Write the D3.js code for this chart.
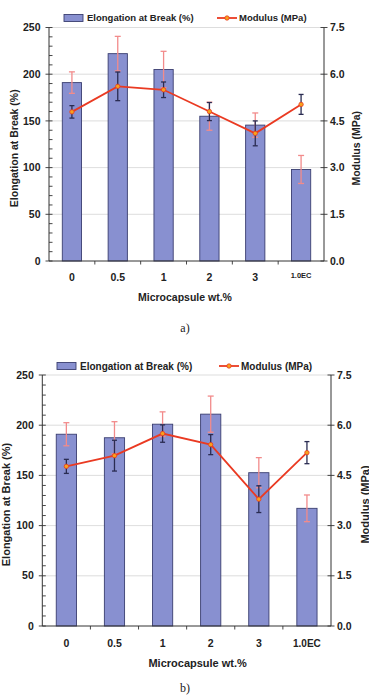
<!DOCTYPE html>
<html>
<head>
<meta charset="utf-8">
<script src="https://cdn.jsdelivr.net/npm/d3@7"></script>
<style>
  html, body { margin: 0; padding: 0; background: #fff; }
  svg { display: block; }
  text { font-family: "Liberation Sans", Arial, sans-serif; font-weight: bold; fill: #222; }
  .cap { font-family: "Liberation Serif", "DejaVu Serif", serif; font-weight: normal; }
</style>
</head>
<body>
<svg id="chart" width="369" height="700"></svg>
<script>
// categorías comunes a los dos paneles
const categories = ['0', '0.5', '1', '2', '3', '1.0EC'];

// panel a)
const elongA = [191, 222, 205, 155, 145.5, 98];
const elongErrA = [11.5, 18.5, 19.5, 15, 13, 15];
const modulusA = [4.79, 5.61, 5.50, 4.80, 4.10, 5.03];
const modulusErrA = [0.2, 0.46, 0.25, 0.29, 0.4, 0.32];

// panel b)
const elongB = [191, 187.5, 201, 211, 152.7, 117.2];
const elongErrB = [11.5, 16, 12.3, 18, 15, 13.3];
const modulusB = [4.77, 5.09, 5.75, 5.42, 3.79, 5.18];
const modulusErrB = [0.21, 0.46, 0.26, 0.3, 0.4, 0.33];

const leftTicks = [0, 50, 100, 150, 200, 250];
const rightTicks = [0, 1.5, 3.0, 4.5, 6.0, 7.5];

const BAR_FILL = '#8890d0', BAR_STROKE = '#3a3e70';
const LINE = '#ea3a22', MARK = '#f7a21c';
const ERR_PINK = '#f28b8b', ERR_DARK = '#2a2c52';

const svg = d3.select('#chart');

function drawPanel(p) {
    const g = svg.append('g');
    const x = d3.scaleBand().domain(categories).range([p.x0, p.x1]);
    const yL = d3.scaleLinear().domain([0, 250]).range([p.bottom, p.top]);
    const yR = d3.scaleLinear().domain([0, 7.5]).range([p.bottom, p.top]);
    const cx = d => x(d) + x.bandwidth() / 2;
    const bw = x.bandwidth() * 0.42;

    // líneas de rejilla
    g.selectAll('.grid').data(leftTicks.slice(1)).join('line')
        .attr('x1', p.x0).attr('x2', p.x1)
        .attr('y1', d => yL(d)).attr('y2', d => yL(d))
        .attr('stroke', '#d4d4d4').attr('stroke-width', 0.8);

    // barras
    g.selectAll('.bar').data(categories).join('rect')
        .attr('x', d => cx(d) - bw / 2)
        .attr('width', bw)
        .attr('y', (d, i) => yL(p.elong[i]))
        .attr('height', (d, i) => yL(0) - yL(p.elong[i]))
        .attr('fill', BAR_FILL).attr('stroke', BAR_STROKE).attr('stroke-width', 0.9);

    // barras de error
    function errBars(vals, errs, scale, color, cap) {
        categories.forEach((c, i) => {
            const xc = cx(c), y1 = scale(vals[i] + errs[i]), y2 = scale(vals[i] - errs[i]);
            g.append('line').attr('x1', xc).attr('x2', xc).attr('y1', y1).attr('y2', y2)
                .attr('stroke', color).attr('stroke-width', 1.3);
            [y1, y2].forEach(yy => g.append('line')
                .attr('x1', xc - cap).attr('x2', xc + cap).attr('y1', yy).attr('y2', yy)
                .attr('stroke', color).attr('stroke-width', 1.3));
        });
    }
    errBars(p.elong, p.elongErr, yL, ERR_PINK, 3);
    errBars(p.modulus, p.modulusErr, yR, ERR_DARK, 2.5);

    // línea del módulo
    const line = d3.line().x((d, i) => cx(categories[i])).y(d => yR(d));
    g.append('path').datum(p.modulus).attr('d', line)
        .attr('fill', 'none').attr('stroke', LINE).attr('stroke-width', 1.8);
    g.selectAll('.pt').data(p.modulus).join('circle')
        .attr('cx', (d, i) => cx(categories[i])).attr('cy', d => yR(d)).attr('r', 2.2)
        .attr('fill', MARK).attr('stroke', LINE).attr('stroke-width', 0.8);

    // eje izquierdo
    g.append('line').attr('x1', p.x0).attr('x2', p.x0).attr('y1', p.top).attr('y2', p.bottom)
        .attr('stroke', '#333').attr('stroke-width', 1);
    d3.range(0, 251, 10).forEach(v => {
        const major = v % 50 === 0;
        g.append('line').attr('x1', major ? p.x0 - 3.5 : p.x0).attr('x2', p.x0 + 3.5)
            .attr('y1', yL(v)).attr('y2', yL(v)).attr('stroke', '#333').attr('stroke-width', 0.9);
    });
    g.selectAll('.lt').data(leftTicks).join('text')
        .attr('x', p.x0 - 8.5).attr('y', d => yL(d)).attr('dy', '0.35em')
        .attr('text-anchor', 'end').attr('font-size', p.tick).text(d => d);

    // eje derecho
    g.append('line').attr('x1', p.x1).attr('x2', p.x1).attr('y1', p.top).attr('y2', p.bottom)
        .attr('stroke', '#333').attr('stroke-width', 1);
    g.selectAll('.rtk').data(rightTicks).join('line')
        .attr('x1', p.x1 - 3.5).attr('x2', p.x1 + 3.5)
        .attr('y1', d => yR(d)).attr('y2', d => yR(d)).attr('stroke', '#333').attr('stroke-width', 0.9);
    g.selectAll('.rt').data(rightTicks).join('text')
        .attr('x', p.x1 + 6).attr('y', d => yR(d)).attr('dy', '0.35em')
        .attr('font-size', p.tick).text(d => d3.format('.1f')(d));

    // eje x
    g.append('line').attr('x1', p.x0).attr('x2', p.x1).attr('y1', p.bottom).attr('y2', p.bottom)
        .attr('stroke', '#333').attr('stroke-width', 1);
    g.selectAll('.xtk').data(categories.slice(1)).join('line')
        .attr('x1', d => x(d)).attr('x2', d => x(d))
        .attr('y1', p.bottom).attr('y2', p.bottom + 3.5).attr('stroke', '#333').attr('stroke-width', 0.9);
    g.selectAll('.xt').data(categories).join('text')
        .attr('x', d => cx(d)).attr('y', p.tickY).attr('text-anchor', 'middle')
        .attr('font-size', d => d === '1.0EC' ? p.ecSize : p.tick)
        .attr('dy', d => d === '1.0EC' ? p.ecDy : 0)
        .text(d => d);

    // títulos
    g.append('text').attr('x', (p.x0 + p.x1) / 2 + p.xTitleShift).attr('y', p.xTitleY)
        .attr('text-anchor', 'middle').attr('font-size', p.title).text('Microcapsule wt.%');
    g.append('text').attr('transform', `translate(${p.yTitleX},${(p.top + p.bottom) / 2 + 4}) rotate(-90)`)
        .attr('text-anchor', 'middle').attr('font-size', p.title).text('Elongation at Break (%)');
    g.append('text').attr('transform', `translate(${p.rTitleX},${(p.top + p.bottom) / 2 + 4}) rotate(-90)`)
        .attr('text-anchor', 'middle').attr('font-size', p.title).text('Modulus (MPa)');

    // leyenda
    const lg = g.append('g').attr('transform', `translate(0,${p.legendY})`);
    lg.append('rect').attr('x', p.lgX).attr('y', -3.5).attr('width', 19).attr('height', 7)
        .attr('fill', BAR_FILL).attr('stroke', BAR_STROKE).attr('stroke-width', 0.9);
    lg.append('text').attr('x', p.lgX + 23).attr('y', 0).attr('dy', '0.35em')
        .attr('font-size', p.legend).text('Elongation at Break (%)');
    lg.append('line').attr('x1', p.lgX2).attr('x2', p.lgX2 + 20).attr('y1', 0).attr('y2', 0)
        .attr('stroke', LINE).attr('stroke-width', 1.8);
    lg.append('circle').attr('cx', p.lgX2 + 10).attr('cy', 0).attr('r', 2.2)
        .attr('fill', MARK).attr('stroke', LINE).attr('stroke-width', 0.8);
    lg.append('text').attr('x', p.lgX2 + 22).attr('y', 0).attr('dy', '0.35em')
        .attr('font-size', p.legend).text('Modulus (MPa)');

    // rótulo
    g.append('text').attr('class', 'cap').attr('x', 185).attr('y', p.capY)
        .attr('text-anchor', 'middle').attr('font-size', 12).text(p.cap);
}

drawPanel({
    elong: elongA, elongErr: elongErrA, modulus: modulusA, modulusErr: modulusErrA,
    x0: 49, x1: 324, top: 27.5, bottom: 261,
    tick: 10.5, ecSize: 7.5, ecDy: -3, title: 10.5, legend: 9.5,
    tickY: 281, xTitleY: 300.5, xTitleShift: -1.5, yTitleX: 17.5, rTitleX: 359.5,
    legendY: 18, lgX: 64, lgX2: 217, capY: 332, cap: 'a)'
});

drawPanel({
    elong: elongB, elongErr: elongErrB, modulus: modulusB, modulusErr: modulusErrB,
    x0: 42.3, x1: 331, top: 375, bottom: 626,
    tick: 10.5, ecSize: 10, ecDy: 0, title: 11, legend: 10,
    tickY: 647, xTitleY: 667, xTitleShift: 11, yTitleX: 9.5, rTitleX: 368.5,
    legendY: 366, lgX: 57, lgX2: 219, capY: 692, cap: 'b)'
});
</script>
</body>
</html>
